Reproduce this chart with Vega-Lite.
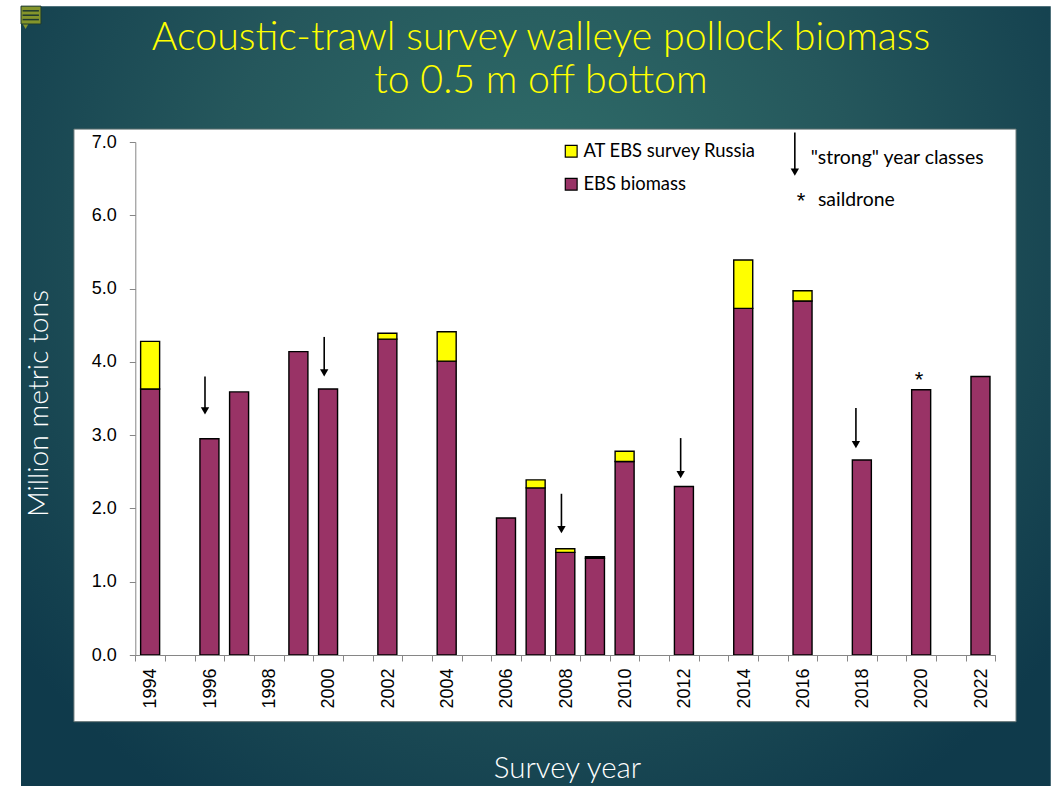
{
"$schema":"https://vega.github.io/schema/vega-lite/v6.json",
"width":1056,"height":786,"padding":0,"autosize":{"type":"none"},"background":"#ffffff",
"config":{"view":{"stroke":null}},
"title":{"text":["Acoustic-trawl survey walleye pollock biomass","to 0.5 m off bottom"],"orient":"top","anchor":"middle","offset":-101,"dx":13,"font":"Lato","fontSize":39.3,"fontWeight":300,"color":"#ffff00","lineHeight":43},
"datasets":{
"bars":[
{"year":1994,"series":"EBS biomass","value":3.63},{"year":1994,"series":"AT EBS survey Russia","value":0.65},
{"year":1996,"series":"EBS biomass","value":2.95},
{"year":1997,"series":"EBS biomass","value":3.59},
{"year":1999,"series":"EBS biomass","value":4.14},
{"year":2000,"series":"EBS biomass","value":3.63},
{"year":2002,"series":"EBS biomass","value":4.31},{"year":2002,"series":"AT EBS survey Russia","value":0.08},
{"year":2004,"series":"EBS biomass","value":4.01},{"year":2004,"series":"AT EBS survey Russia","value":0.40},
{"year":2006,"series":"EBS biomass","value":1.87},
{"year":2007,"series":"EBS biomass","value":2.28},{"year":2007,"series":"AT EBS survey Russia","value":0.11},
{"year":2008,"series":"EBS biomass","value":1.40},{"year":2008,"series":"AT EBS survey Russia","value":0.05},
{"year":2009,"series":"EBS biomass","value":1.32},{"year":2009,"series":"AT EBS survey Russia","value":0.02},
{"year":2010,"series":"EBS biomass","value":2.64},{"year":2010,"series":"AT EBS survey Russia","value":0.14},
{"year":2012,"series":"EBS biomass","value":2.30},
{"year":2014,"series":"EBS biomass","value":4.73},{"year":2014,"series":"AT EBS survey Russia","value":0.66},
{"year":2016,"series":"EBS biomass","value":4.83},{"year":2016,"series":"AT EBS survey Russia","value":0.14},
{"year":2018,"series":"EBS biomass","value":2.66},
{"year":2020,"series":"EBS biomass","value":3.62},
{"year":2022,"series":"EBS biomass","value":3.80}
],
"arrows":[
{"year":1995.85,"value":3.8,"value2":3.33,"head":3.33},
{"year":1999.87,"value":4.34,"value2":3.85,"head":3.85},
{"year":2007.87,"value":2.2,"value2":1.71,"head":1.71},
{"year":2011.89,"value":2.96,"value2":2.46,"head":2.46},
{"year":2017.8,"value":3.37,"value2":2.87,"head":2.87},
{"year":2015.74,"value":7.13,"value2":6.59,"head":6.59}
],
"labels":[
{"year":2016.28,"value":6.78,"label":"\"strong\" year classes"},
{"year":2016.52,"value":6.21,"label":"saildrone"}
],
"stars":[
{"year":2019.93,"value":3.75,"label":"*"},
{"year":2015.95,"value":6.19,"label":"*"}
]
},
"encoding":{
"x":{"field":"year","type":"quantitative","title":"Survey year",
"scale":{"domain":[1993.5,2022.5],"range":[135.3,995.3],"nice":false,"zero":false,"padding":0},
"axis":{"offset":-131,"zindex":1,"grid":false,"values":[1993.5,1994.5,1995.5,1996.5,1997.5,1998.5,1999.5,2000.5,2001.5,2002.5,2003.5,2004.5,2005.5,2006.5,2007.5,2008.5,2009.5,2010.5,2011.5,2012.5,2013.5,2014.5,2015.5,2016.5,2017.5,2018.5,2019.5,2020.5,2021.5,2022.5],
"labelExpr":"(datum.value+0.5)%2==0 ? ''+(datum.value+0.5) : ''","labelOffset":15.6,"labelAngle":-90,"labelPadding":7,"labelFont":"Liberation Sans","labelFontSize":18,"labelColor":"#000000","labelOverlap":false,"labelFlush":false,"labelBound":false,"tickSize":6,"tickColor":"#868686","domainColor":"#868686",
"titleFont":"Lato","titleFontSize":29.5,"titleFontWeight":300,"titleColor":"#ffffff","titleX":567,"titleY":122,"titleAlign":"center","titleBaseline":"alphabetic"}},
"y":{"field":"value","type":"quantitative","title":"Million metric tons",
"scale":{"domain":[0,7],"range":[655,142],"nice":false,"zero":false},
"axis":{"offset":-135.3,"zindex":1,"grid":false,"values":[0,1,2,3,4,5,6,7],"format":".1f","labelFont":"Liberation Sans","labelFontSize":18,"labelColor":"#000000","labelPadding":13,"tickSize":6,"tickColor":"#868686","domainColor":"#868686",
"titleFont":"Lato","titleFontSize":28.3,"titleFontWeight":300,"titleColor":"#ffffff","titleX":-96,"titleY":403,"titleAngle":-90,"titleAlign":"center","titleBaseline":"middle"}}
},
"layer":[
{"data":{"values":[{"year":1989.646,"year2":2024.37,"value":8.854,"value2":-1.787}]},
 "mark":{"type":"rect","clip":false,"fill":{"gradient":"radial","x1":0.5,"y1":0.35,"x2":0.5,"y2":0.35,"r1":0,"r2":0.64,"stops":[{"offset":0,"color":"#31706b"},{"offset":0.5,"color":"#25575c"},{"offset":1,"color":"#0f3a4b"}]}},
 "encoding":{"x2":{"field":"year2"},"y2":{"field":"value2"}}},
{"data":{"values":[{"year":1991.43,"year2":2023.2,"value":7.176,"value2":-0.91}]},
 "mark":{"type":"rect","fill":"#ffffff","stroke":"#5f6f70","strokeWidth":1},
 "encoding":{"x2":{"field":"year2"},"y2":{"field":"value2"}}},
{"data":{"values":[{"year":1989.8,"value":8.58}]},
 "mark":{"type":"point","shape":"triangle-down","filled":true,"color":"#84952b","size":40,"opacity":1}},
{"data":{"values":[{"year":1989.646,"year2":1990.32,"value":8.854,"value2":8.61}]},
 "mark":{"type":"rect","fill":"#84952b","stroke":"#1f3a2f","strokeWidth":1},
 "encoding":{"x2":{"field":"year2"},"y2":{"field":"value2"}}},
{"data":{"values":[{"year":1989.7,"year2":1990.25,"value":8.79},{"year":1989.7,"year2":1990.25,"value":8.73},{"year":1989.7,"year2":1990.25,"value":8.67}]},
 "mark":{"type":"rule","stroke":"#1f3a2f","strokeWidth":1.5},
 "encoding":{"x2":{"field":"year2"}}},
{"data":{"name":"bars"},
 "mark":{"type":"bar","width":19,"stroke":"#000000","strokeWidth":1.4},
 "encoding":{
  "color":{"field":"series","type":"nominal","scale":{"domain":["AT EBS survey Russia","EBS biomass"],"range":["#ffff00","#993366"]},
   "legend":{"title":null,"orient":"none","legendX":562,"legendY":142,"symbolType":"square","symbolSize":140,"symbolStrokeColor":"#000000","symbolStrokeWidth":1.2,"labelFont":"Lato","labelFontSize":18.4,"labelColor":"#000000","labelLimit":300,"rowPadding":14,"labelOffset":3}},
  "order":{"field":"series","sort":"descending"}}},
{"data":{"name":"arrows"},
 "mark":{"type":"rule","stroke":"#000000","strokeWidth":1.6},
 "encoding":{"y2":{"field":"value2"}}},
{"data":{"name":"arrows"},
 "mark":{"type":"point","shape":"triangle-down","filled":true,"color":"#000000","size":70,"opacity":1},
 "encoding":{"y":{"field":"head","type":"quantitative"}}},
{"data":{"name":"labels"},
 "mark":{"type":"text","align":"left","baseline":"middle","font":"Lato","fontSize":19.4,"color":"#000000"},
 "encoding":{"text":{"field":"label"}}},
{"data":{"name":"stars"},
 "mark":{"type":"text","align":"center","baseline":"middle","font":"Liberation Sans","fontSize":22,"color":"#000000"},
 "encoding":{"text":{"field":"label"}}}
]
}
